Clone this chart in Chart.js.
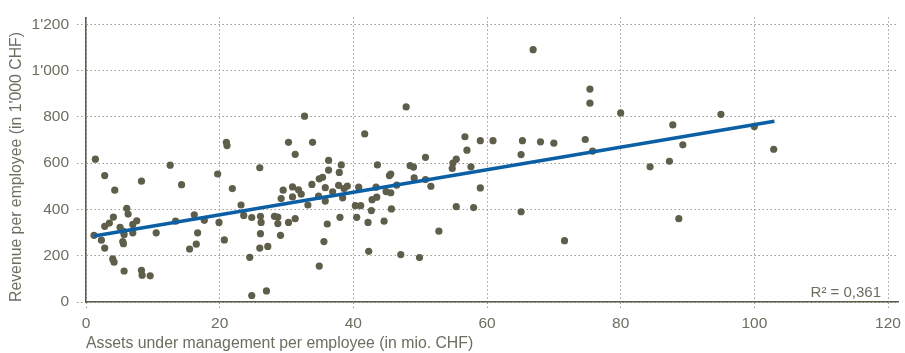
<!DOCTYPE html>
<html>
<head>
<meta charset="utf-8">
<script src="https://cdn.jsdelivr.net/npm/chart.js@4"></script>
<style>
  html, body { margin: 0; padding: 0; background: #fff; }
  canvas { display: block; }
</style>
</head>
<body>
<canvas id="aumChart" width="905" height="353"></canvas>
<script>
// --- Data ---
const assetsPerEmployee = [
    1.4, 1.2, 2.3, 2.8, 2.8, 2.8, 3.5, 4.1, 4.0, 4.2, 4.3, 5.1, 5.6, 5.7, 5.5, 5.6, 5.7, 6.1, 6.3, 7.0,
    7.6, 7.0, 8.3, 8.3, 8.4, 9.6, 10.5, 12.6, 13.4, 14.3,
    15.5, 16.2, 16.5, 16.7, 17.7, 19.7, 19.9, 20.7, 21.0, 21.1, 21.9, 23.2, 23.6, 24.5, 24.8, 24.8,
    26.0, 26.0, 26.1, 26.2, 26.1, 27.0, 27.2,
    28.2, 28.7, 28.7, 29.1, 29.2, 29.5, 30.3, 30.3, 30.9, 30.9, 31.3, 31.3, 31.8, 32.2, 32.7, 33.2,
    33.8, 33.9, 34.8, 34.9, 34.9, 35.4, 35.6, 35.8, 35.8, 36.1, 36.3, 36.3, 36.9, 37.8, 37.9,
    38.2, 38.0, 38.4, 38.6, 39.1,
    40.3, 41.1, 40.5, 40.8, 41.7, 42.2, 42.3, 42.7, 42.8, 43.5, 43.4, 43.6, 44.6, 44.9, 45.6, 45.4,
    45.6, 45.7, 46.5, 47.1, 47.9, 48.5, 49.0, 49.1, 49.9, 50.8, 50.8, 51.6, 52.8, 54.8, 54.9, 55.4,
    55.4, 56.7, 57.0, 57.6, 58.0, 59.0, 59.0, 60.9, 65.1, 65.1, 65.3, 66.9, 68.0, 70.0, 71.6,
    74.7, 75.4, 75.4, 75.8, 80.0, 84.4, 87.3, 87.8, 88.7, 89.3, 95.0, 100.0, 102.9
];
const revenuePerEmployee = [
    617, 288, 267, 233, 546, 327, 341, 367, 186, 172, 483, 323, 305, 292, 261, 252, 134, 405, 380, 335,
    351, 299, 522, 137, 116, 113, 299, 591, 349, 507,
    229, 377, 250, 299, 353, 553, 344, 268, 690, 676, 490, 419, 374, 193, 365, 28,
    580, 233, 370, 344, 295, 48, 240,
    370, 367, 339, 288, 447, 483, 690, 344, 497, 454, 638, 360, 485, 466, 803, 419,
    508, 690, 457, 155, 532, 539, 261, 494, 436, 337, 612, 570, 476, 504, 560,
    592, 366, 450, 490, 501,
    416, 416, 366, 496, 726, 344, 219, 395, 442, 453, 496, 592, 349, 477, 472, 546,
    553, 402, 505, 205, 843, 589, 583, 536, 192, 529, 625, 500, 306, 577, 600, 617,
    412, 714, 656, 584, 408, 697, 493, 697, 637, 390, 697, 1090, 692, 686, 265,
    702, 920, 859, 652, 817, 584, 608, 765, 360, 679, 811, 758, 660
];

// regression line end points
const trendX = [1.2, 103];
const trendY = [285, 781];
const rSquaredLabel = 'R² = 0,361';

const xTicks = [0, 20, 40, 60, 80, 100, 120];
const yTicks = [0, 200, 400, 600, 800, 1000, 1200];

const textColor = '#6d6d60';
const axisColor = '#5c5c4a';
const gridColor = '#9c9c94';
const fontFamily = '"Liberation Sans", Arial, Helvetica, sans-serif';

const scatterPoints = assetsPerEmployee.map((x, i) => ({ x: x, y: revenuePerEmployee[i] }));
const trendPoints = trendX.map((x, i) => ({ x: x, y: trendY[i] }));

function formatThousands(v) {
    return String(v).replace(/\B(?=(\d{3})+(?!\d))/g, "'");
}

// R² note in the lower right corner
const rSquaredPlugin = {
    id: 'rSquared',
    afterDatasetsDraw(chart) {
        const { ctx, chartArea } = chart;
        ctx.save();
        ctx.font = '15px ' + fontFamily;
        ctx.fillStyle = textColor;
        ctx.textAlign = 'right';
        ctx.textBaseline = 'middle';
        ctx.fillText(rSquaredLabel, chartArea.right - 17, chartArea.bottom - 9);
        ctx.restore();
    }
};

new Chart(document.getElementById('aumChart'), {
    type: 'scatter',
    data: {
        datasets: [
            {
                type: 'line',
                data: trendPoints,
                borderColor: '#0b5fa4',
                borderWidth: 3.5,
                pointRadius: 0,
                fill: false
            },
            {
                data: scatterPoints,
                backgroundColor: '#5e5e4b',
                borderWidth: 0,
                pointRadius: 3.6
            }
        ]
    },
    options: {
        responsive: false,
        animation: false,
        layout: { padding: { top: 12, right: 5, left: 0, bottom: 0 } },
        plugins: {
            legend: { display: false },
            tooltip: { enabled: false }
        },
        scales: {
            x: {
                type: 'linear',
                min: 0,
                max: 121.5,
                afterBuildTicks: (scale) => { scale.ticks = xTicks.map(v => ({ value: v })); },
                afterFit: (scale) => { scale.height = 51; },
                grid: {
                    color: gridColor,
                    tickColor: gridColor,
                    tickLength: 8,
                    tickBorderDash: [1.5, 2.5]
                },
                border: { color: axisColor, width: 1.5, dash: [1.5, 2.5] },
                ticks: {
                    padding: 4,
                    color: textColor,
                    font: { family: fontFamily, size: 15.5 },
                    maxRotation: 0
                },
                title: {
                    display: true,
                    text: 'Assets under management per employee (in mio. CHF)',
                    align: 'start',
                    color: textColor,
                    font: { family: fontFamily, size: 15.8 },
                    padding: { top: 0, bottom: 0 }
                }
            },
            y: {
                type: 'linear',
                min: 0,
                max: 1230,
                afterBuildTicks: (scale) => { scale.ticks = yTicks.map(v => ({ value: v })); },
                afterFit: (scale) => { scale.width = 86; },
                grid: {
                    color: gridColor,
                    tickColor: gridColor,
                    tickLength: 9,
                    tickBorderDash: [1.5, 2.5]
                },
                border: { color: axisColor, width: 1.5, dash: [1.5, 2.5] },
                ticks: {
                    padding: 8,
                    color: textColor,
                    font: { family: fontFamily, size: 15.5 },
                    callback: (v) => formatThousands(v)
                },
                title: {
                    display: true,
                    text: "Revenue per employee (in 1'000 CHF)",
                    align: 'start',
                    color: textColor,
                    font: { family: fontFamily, size: 15.8 },
                    padding: { top: 7, bottom: 0 }
                }
            }
        }
    },
    plugins: [rSquaredPlugin]
});
</script>
</body>
</html>
